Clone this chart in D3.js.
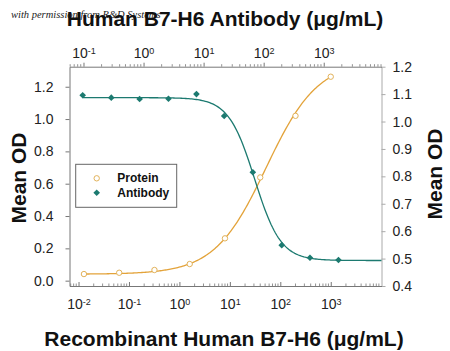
<!DOCTYPE html>
<html>
<head>
<meta charset="utf-8">
<script src="https://cdn.jsdelivr.net/npm/d3@7"></script>
<style>
html,body{margin:0;padding:0;background:#fff;}
svg{display:block;font-family:"Liberation Sans",Arial,sans-serif;}
</style>
</head>
<body>
<svg id="chart" width="450" height="351"></svg>
<script>
// ---- data ----
const proteinConc = [0.0128, 0.064, 0.32, 1.6, 8, 40, 200, 1000];           // µg/mL, bottom axis
const proteinOD   = [0.041, 0.049, 0.066, 0.103, 0.262, 0.639, 1.02, 1.262]; // left axis
const antibodyConc = [0.097, 0.29, 0.86, 2.6, 7.6, 22, 66, 200, 590, 1760];   // µg/mL, top axis
const antibodyOD   = [1.096, 1.087, 1.082, 1.083, 1.100, 1.02, 0.815, 0.549, 0.503, 0.495]; // right axis
// four-parameter logistic fits: [start, end, EC50, hill]
const proteinFit  = [0.04, 1.36, 52.5, 0.85];
const antibodyFit = [1.087, 0.493, 70.8, 2.0];
const bottomTicks = [-2, -1, 0, 1, 2, 3];
const topTicks = [-1, 0, 1, 2, 3];
const leftTicks = [0.0, 0.2, 0.4, 0.6, 0.8, 1.0, 1.2];
const rightTicks = [0.4, 0.5, 0.6, 0.7, 0.8, 0.9, 1.0, 1.1, 1.2];
const seriesNames = ["Protein", "Antibody"];

const svg = d3.select("#chart");
const L = 69.5, R = 381.5, T = 66.7, B = 286;
const orange = "#e3a33a", teal = "#1c7a70";

const xBot = d3.scaleLog().domain([Math.pow(10,-2.179), Math.pow(10,4.006)]).range([L, R]);
const xTop = d3.scaleLog().domain([Math.pow(10,-1.233), Math.pow(10,3.962)]).range([L, R]);
const yL = d3.scaleLinear().domain([-0.033, 1.324]).range([B, T]);
const yR = d3.scaleLinear().domain([0.4, 1.2]).range([B, T]);

// watermark
svg.append("text").attr("x", 11).attr("y", 18)
  .attr("font-family", "'Liberation Serif','DejaVu Serif',serif").attr("font-style", "italic")
  .attr("font-size", 10.5).attr("fill", "#222").text("with permission from R&D Systems");

// titles
svg.append("text").attr("x", 225).attr("y", 26).attr("text-anchor", "middle")
  .attr("font-size", 21).attr("font-weight", "bold").attr("fill", "#111")
  .text("Human B7-H6 Antibody (\u03bcg/mL)");
svg.append("text").attr("x", 224).attr("y", 346).attr("text-anchor", "middle")
  .attr("font-size", 21).attr("font-weight", "bold").attr("fill", "#111")
  .text("Recombinant Human B7-H6 (\u03bcg/mL)");
svg.append("text").attr("transform", "translate(26,178) rotate(-90)").attr("text-anchor", "middle")
  .attr("font-size", 21).attr("font-weight", "bold").attr("fill", "#111").text("Mean OD");
svg.append("text").attr("transform", "translate(442,174) rotate(-90)").attr("text-anchor", "middle")
  .attr("font-size", 21).attr("font-weight", "bold").attr("fill", "#111").text("Mean OD");

// left axis
const gL = svg.append("g").attr("transform", `translate(${L},0)`)
  .call(d3.axisLeft(yL).tickValues(leftTicks).tickFormat(d3.format(".1f")).tickSize(4).tickPadding(12).tickSizeOuter(0));
gL.selectAll("text").attr("font-size", 14).attr("fill", "#222").attr("font-family", "Liberation Sans, Arial, sans-serif");
gL.selectAll("line,path").attr("stroke", "#777");

// right axis
const gR = svg.append("g").attr("transform", `translate(${R},0)`)
  .call(d3.axisRight(yR).tickValues(rightTicks).tickFormat(d3.format(".1f")).tickSize(4).tickPadding(7).tickSizeOuter(0));
gR.selectAll("text").attr("font-size", 14).attr("fill", "#222").attr("font-family", "Liberation Sans, Arial, sans-serif");
gR.selectAll("line,path").attr("stroke", "#aaa");

function supLabels(g, yPos) {
  g.selectAll(".tick text").each(function(d) {
    const t = d3.select(this);
    const e = Math.round(Math.log10(d));
    t.text(null).attr("y", yPos).attr("dy", null)
      .attr("font-size", 14).attr("fill", "#222").attr("font-family", "Liberation Sans, Arial, sans-serif");
    t.append("tspan").text("10");
    t.append("tspan").attr("dy", "-0.45em").attr("font-size", 9).text(String(e));
  });
}
function minorTicks(scale, dir, y) {
  const arr = [];
  const lo = Math.floor(Math.log10(scale.domain()[0])), hi = Math.ceil(Math.log10(scale.domain()[1]));
  for (let e = lo; e <= hi; e++) for (let m = 2; m <= 9; m++) {
    const v = m * Math.pow(10, e);
    if (v > scale.domain()[0] && v < scale.domain()[1]) arr.push(v);
  }
  svg.append("g").selectAll("line").data(arr).join("line")
    .attr("x1", d => scale(d)).attr("x2", d => scale(d))
    .attr("y1", y).attr("y2", y + dir * 2.5).attr("stroke", "#777").attr("stroke-width", 0.8);
}

// bottom axis
const gB = svg.append("g").attr("transform", `translate(0,${B})`)
  .call(d3.axisBottom(xBot).tickValues(bottomTicks.map(e => Math.pow(10, e))).tickSize(-4).tickSizeOuter(0));
gB.selectAll("line,path").attr("stroke", "#777");
supLabels(gB, 23);
minorTicks(xBot, -1, B);

// top axis
const gT = svg.append("g").attr("transform", `translate(0,${T})`)
  .call(d3.axisTop(xTop).tickValues(topTicks.map(e => Math.pow(10, e))).tickSize(4).tickSizeOuter(0));
gT.selectAll("line,path").attr("stroke", "#777");
supLabels(gT, -9);
minorTicks(xTop, -1, T);

// fit curves
function logistic(p, x) { return p[1] + (p[0] - p[1]) / (1 + Math.pow(x / p[2], p[3])); }
function sample(x0, x1, n) {
  const a = Math.log10(x0), b = Math.log10(x1);
  return d3.range(n + 1).map(i => Math.pow(10, a + (b - a) * i / n));
}
const line = d3.line().curve(d3.curveLinear);
svg.append("path")
  .attr("d", line(sample(proteinConc[0], proteinConc[proteinConc.length - 1], 200).map(x => [xBot(x), yL(logistic(proteinFit, x))])))
  .attr("fill", "none").attr("stroke", orange).attr("stroke-width", 1.3);
svg.append("path")
  .attr("d", line(sample(antibodyConc[0], xTop.domain()[1], 200).map(x => [xTop(x), yR(logistic(antibodyFit, x))])))
  .attr("fill", "none").attr("stroke", teal).attr("stroke-width", 1.3);

// points
const diamond = d3.symbol().type(d3.symbolSquare).size(22);
svg.append("g").selectAll("circle").data(proteinConc).join("circle")
  .attr("cx", d => xBot(d)).attr("cy", (d, i) => yL(proteinOD[i])).attr("r", 2.7)
  .attr("fill", "#fff").attr("stroke", "#e2b25a").attr("stroke-width", 1);
svg.append("g").selectAll("path").data(antibodyConc).join("path")
  .attr("transform", (d, i) => `translate(${xTop(d)},${yR(antibodyOD[i])}) rotate(45)`)
  .attr("d", diamond).attr("fill", teal);

// legend
const lg = svg.append("g");
lg.append("rect").attr("x", 75.7).attr("y", 164.3).attr("width", 101).attr("height", 43)
  .attr("fill", "#fff").attr("stroke", "#666").attr("stroke-width", 1);
lg.append("circle").attr("cx", 96.7).attr("cy", 178.3).attr("r", 2.7)
  .attr("fill", "#fff").attr("stroke", "#e2b25a").attr("stroke-width", 1);
lg.append("path").attr("transform", "translate(96.7,192.7) rotate(45)").attr("d", diamond).attr("fill", teal);
lg.selectAll("text").data(seriesNames).join("text")
  .attr("x", 117.3).attr("y", (d, i) => 182 + i * 14.8)
  .attr("font-size", 12).attr("font-weight", "bold").attr("fill", "#111").text(d => d);
</script>
</body>
</html>
